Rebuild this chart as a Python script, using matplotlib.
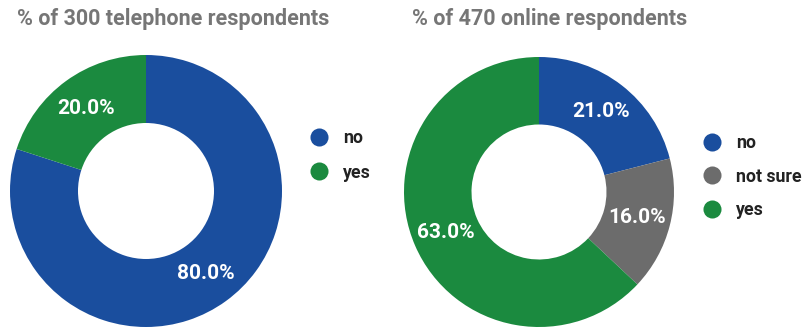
import matplotlib.pyplot as plt
from matplotlib.lines import Line2D

plt.rcParams['font.family'] = ['Roboto', 'DejaVu Sans']

# data
tel_labels = ["no", "yes"]
tel_values = [80.0, 20.0]
tel_title = "% of 300 telephone respondents"

onl_labels = ["no", "not sure", "yes"]
onl_values = [21.0, 16.0, 63.0]
onl_title = "% of 470 online respondents"

colores = {"no": "#1a4e9e", "yes": "#1b8a3f", "not sure": "#6c6c6c"}

W, H = 803, 327
fig = plt.figure(figsize=(W / 100, H / 100), dpi=100)


def dona(cx, cy, r, labels, values, title, title_x, leg_x, leg_y, leg_gap):
	# axes in pixel coords (cy measured from top)
	ax = fig.add_axes([(cx - r) / W, (H - cy - r) / H, 2 * r / W, 2 * r / H])
	ax.pie(values, colors=[colores[l] for l in labels], startangle=90, counterclock=False,
		radius=1, wedgeprops=dict(width=0.5, edgecolor='none'),
		autopct='%.1f%%', pctdistance=0.75,
		textprops=dict(color='white', fontsize=15, fontweight='bold'))
	ax.set_xlim(-1, 1)
	ax.set_ylim(-1, 1)
	ax.set_aspect('equal')
	ax.axis('off')

	fig.text(title_x / W, 1 - 19 / H, title, fontsize=15.5, fontweight='bold',
		color='#767676', ha='left', va='center')

	# legend
	handles = [Line2D([0], [0], marker='o', ls='none', markersize=13,
		markerfacecolor=colores[l], markeredgecolor='none') for l in labels]
	fig.legend(handles, labels, loc='upper left', frameon=False,
		bbox_to_anchor=(leg_x / W, 1 - leg_y / H), handletextpad=0.7,
		labelspacing=leg_gap, prop=dict(size=12.8, weight='bold'), labelcolor='#222222',
		borderpad=0, borderaxespad=0, handlelength=1.25)


dona(146, 191, 136, tel_labels, tel_values, tel_title, 17, 308, 129, 0.94)
dona(539, 192, 135, onl_labels, onl_values, onl_title, 412, 701, 134, 0.88)

fig.savefig('out.png', dpi=100)
